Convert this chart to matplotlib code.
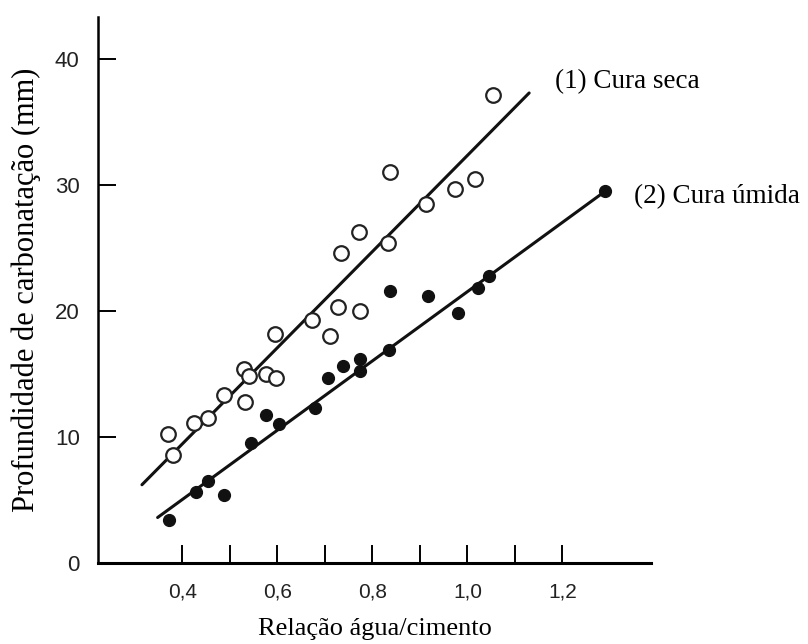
import matplotlib.pyplot as plt
from matplotlib.ticker import FixedLocator, FuncFormatter

# cura seca (open circles)
seca_x = [0.369, 0.380, 0.425, 0.455, 0.487, 0.530, 0.541, 0.532, 0.576, 0.598,
          0.595, 0.672, 0.710, 0.728, 0.773, 0.735, 0.772, 0.833, 0.838, 0.913,
          0.973, 1.017, 1.053]
seca_y = [10.2, 8.6, 11.1, 11.5, 13.3, 15.4, 14.8, 12.8, 15.0, 14.7,
          18.2, 19.3, 18.0, 20.3, 20.0, 24.6, 26.3, 25.4, 31.0, 28.5,
          29.7, 30.5, 37.1]

# cura úmida (filled circles)
umida_x = [0.371, 0.429, 0.455, 0.488, 0.544, 0.577, 0.604, 0.679, 0.707, 0.739,
           0.773, 0.773, 0.836, 0.838, 0.918, 0.980, 1.022, 1.045, 1.290]
umida_y = [3.4, 5.6, 6.5, 5.4, 9.5, 11.7, 11.0, 12.3, 14.7, 15.6,
           16.2, 15.2, 16.9, 21.6, 21.2, 19.8, 21.8, 22.8, 29.5]

# trend lines (end points)
linha_seca_x = [0.315, 1.130]
linha_seca_y = [6.2, 37.3]
linha_umida_x = [0.348, 1.290]
linha_umida_y = [3.6, 29.5]

fig = plt.figure(figsize=(8.08, 6.44), dpi=100)
ax = fig.add_axes([0.121, 0.126, 0.685, 0.847])

ax.plot(linha_seca_x, linha_seca_y, color='#111111', lw=2.2, solid_capstyle='round')
ax.plot(linha_umida_x, linha_umida_y, color='#111111', lw=2.2, solid_capstyle='round')
ax.plot(seca_x, seca_y, 'o', ms=10.5, mfc='white', mec='#222222', mew=1.6, zorder=3)
ax.plot(umida_x, umida_y, 'o', ms=8.5, mfc='#111111', mec='#111111', zorder=3)

ax.set_xlim(0.222, 1.387)
ax.set_ylim(0, 43.3)

ax.spines['top'].set_visible(False)
ax.spines['right'].set_visible(False)
ax.spines['left'].set_linewidth(1.8)
ax.spines['bottom'].set_linewidth(2.2)

ax.xaxis.set_major_locator(FixedLocator([0.4, 0.6, 0.8, 1.0, 1.2]))
ax.xaxis.set_minor_locator(FixedLocator([0.5, 0.7, 0.9, 1.1]))
ax.yaxis.set_major_locator(FixedLocator([0, 10, 20, 30, 40]))
ax.xaxis.set_major_formatter(FuncFormatter(lambda v, p: f'{v:.1f}'.replace('.', ',')))
ax.yaxis.set_major_formatter(FuncFormatter(lambda v, p: f'{v:.0f}'))

ax.tick_params(axis='x', which='both', direction='in', length=13, width=1.4, pad=14,
               labelsize=15, labelcolor='#222222')
ax.tick_params(axis='y', which='major', direction='in', length=13, width=1.4, pad=13,
               labelsize=16, labelcolor='#222222')
for lbl in ax.get_xticklabels() + ax.get_yticklabels():
    lbl.set_family('Liberation Sans')

serif = 'Liberation Serif'
ax.set_xlabel('Relação água/cimento', family=serif, fontsize=19, labelpad=12)
ax.set_ylabel('Profundidade de carbonatação (mm)', family=serif, fontsize=22, labelpad=10)

ax.text(1.185, 38.2, '(1) Cura seca', family=serif, fontsize=19.5,
        va='center', ha='left', clip_on=False)
ax.text(1.350, 29.05, '(2) Cura úmida', family=serif, fontsize=19.5,
        va='center', ha='left', clip_on=False)

fig.savefig('out.png', dpi=100)
